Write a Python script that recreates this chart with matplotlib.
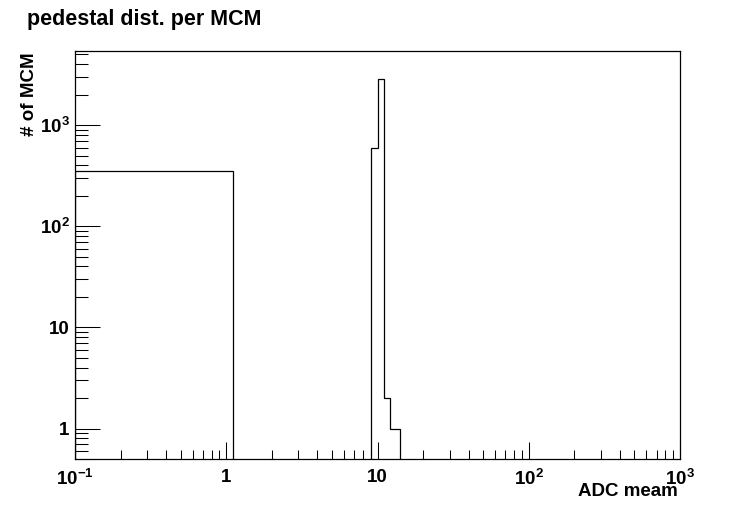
import numpy as np
import matplotlib
matplotlib.use("Agg")
import matplotlib.pyplot as plt
from matplotlib.ticker import FixedLocator, FixedFormatter, NullFormatter

plt.rcParams['font.family'] = 'Liberation Sans'
plt.rcParams['font.weight'] = 'bold'
plt.rcParams['mathtext.fontset'] = 'custom'
plt.rcParams['mathtext.rm'] = 'Liberation Sans:bold'
plt.rcParams['mathtext.it'] = 'Liberation Sans:bold'
plt.rcParams['mathtext.bf'] = 'Liberation Sans:bold'

# histogram (bins of width 1 starting at 0.1)
edges = [0.1, 1.1, 2.1, 3.1, 4.1, 5.1, 6.1, 7.1, 8.1, 9.1, 10.1, 11.1, 12.1, 13.1, 14.1]
counts = [350, 0, 0, 0, 0, 0, 0, 0, 0, 590, 2830, 2, 1, 1]

x_major = [0.1, 1, 10, 100, 1000]
x_labels = ['$10^{-1}$', '1', '10', '$10^{2}$', '$10^{3}$']
y_major = [1, 10, 100, 1000]
y_labels = ['1', '10', '$10^{2}$', '$10^{3}$']

fig = plt.figure(figsize=(7.56, 5.11), dpi=100)
ax = fig.add_axes([75/756, 52/511, 605/756, 408/511])

ax.stairs(counts, edges, color='black', lw=0.9, baseline=1e-3)
ax.set_xscale('log')
ax.set_yscale('log')
ax.set_xlim(0.1, 1000)
ax.set_ylim(0.5, 5400)

# ticks like ROOT: inside, only bottom and left
xminor = [m * d for d in [0.1, 1, 10, 100] for m in range(2, 10)]
yminor = [m * d for d in [0.1, 1, 10, 100, 1000] for m in range(2, 10)]
yminor = [v for v in yminor if 0.5 <= v <= 5400]
ax.xaxis.set_major_locator(FixedLocator(x_major))
ax.xaxis.set_major_formatter(FixedFormatter(x_labels))
ax.xaxis.set_minor_locator(FixedLocator(xminor))
ax.xaxis.set_minor_formatter(NullFormatter())
ax.yaxis.set_major_locator(FixedLocator(y_major))
ax.yaxis.set_major_formatter(FixedFormatter(y_labels))
ax.yaxis.set_minor_locator(FixedLocator(yminor))
ax.yaxis.set_minor_formatter(NullFormatter())

ax.tick_params(axis='x', which='major', direction='in', length=12.5, width=0.75,
               labelsize=13.5, pad=7, top=False)
ax.tick_params(axis='x', which='minor', direction='in', length=6.5, width=0.75, top=False)
ax.tick_params(axis='y', which='major', direction='in', length=18, width=0.75,
               labelsize=13.5, pad=4, right=False)
ax.tick_params(axis='y', which='minor', direction='in', length=9, width=0.75, right=False)
for s in ax.spines.values():
    s.set_linewidth(0.9)

fig.text(27/756, 1 - 19/511, 'pedestal dist. per MCM', fontsize=15.5, fontweight='bold',
         ha='left', va='center')
fig.text(678/756, 1 - 496/511, 'ADC meam', fontsize=13.5, fontweight='bold',
         ha='right', va='baseline')
fig.text(29/756, 1 - 52/511, '# of MCM', fontsize=13.5, fontweight='bold',
         ha='center', va='top', rotation=90)

fig.savefig('out.png', dpi=100, facecolor='white')
